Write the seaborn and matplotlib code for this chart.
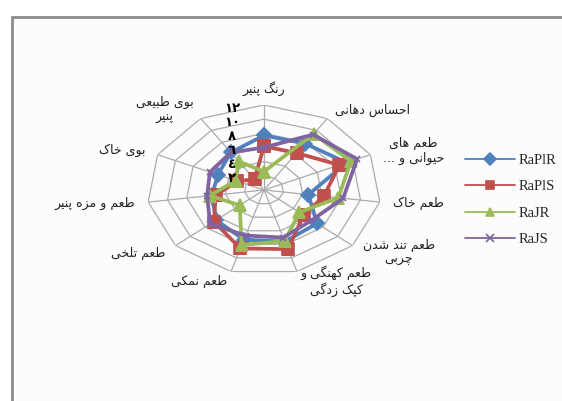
import numpy as np
import pandas as pd
import matplotlib
matplotlib.use("Agg")
import matplotlib.pyplot as plt
import seaborn as sns
from matplotlib.patches import Rectangle

# attribute names, clockwise from the top
categories = [
    "رنگ پنیر",
    "احساس دهانی",
    "طعم های\nحیوانی و ...",
    "طعم خاک",
    "طعم تند شدن\nچربی",
    "طعم کهنگی و\nکپک زدگی",
    "طعم نمکی",
    "طعم تلخی",
    "طعم و مزه پنیر",
    "بوی خاک",
    "بوی طبیعی\nپنیر",
]
series_names = ["RaPlR", "RaPlS", "RaJR", "RaJS"]
rapl_r = [7.7, 7.8, 9.3, 4.6, 7.2, 7.6, 7.3, 6.5, 5.4, 5.2, 6.3]
rapl_s = [6.2, 6.2, 8.5, 6.2, 5.4, 8.7, 8.6, 6.8, 5.0, 3.0, 1.8]
raj_r = [2.6, 9.4, 9.8, 7.7, 4.8, 7.5, 8.1, 3.3, 5.6, 3.2, 4.8]
raj_s = [6.0, 9.3, 10.5, 8.2, 6.5, 7.0, 6.7, 7.3, 5.9, 6.1, 6.3]
r_ticks = [2, 4, 6, 8, 10, 12]
r_tick_labels = ["۲", "٤", "٦", "۸", "۱۰", "۱۲"]

colors = ["#4F81BD", "#C0504D", "#9BBB59", "#8064A2"]
markers = ["D", "s", "^", "x"]
msizes = [7, 8, 9, 5]

# contextual forms (isolated, final, initial, medial) so the Persian text joins
FORMS = {
    "ا": ("\uFE8D", "\uFE8E", None, None),
    "آ": ("\uFE81", "\uFE82", None, None),
    "ب": ("\uFE8F", "\uFE90", "\uFE91", "\uFE92"),
    "پ": ("\uFB56", "\uFB57", "\uFB58", "\uFB59"),
    "ت": ("\uFE95", "\uFE96", "\uFE97", "\uFE98"),
    "چ": ("\uFB7A", "\uFB7B", "\uFB7C", "\uFB7D"),
    "ح": ("\uFEA1", "\uFEA2", "\uFEA3", "\uFEA4"),
    "خ": ("\uFEA5", "\uFEA6", "\uFEA7", "\uFEA8"),
    "د": ("\uFEA9", "\uFEAA", None, None),
    "ر": ("\uFEAD", "\uFEAE", None, None),
    "ز": ("\uFEAF", "\uFEB0", None, None),
    "س": ("\uFEB1", "\uFEB2", "\uFEB3", "\uFEB4"),
    "ش": ("\uFEB5", "\uFEB6", "\uFEB7", "\uFEB8"),
    "ط": ("\uFEC1", "\uFEC2", "\uFEC3", "\uFEC4"),
    "ع": ("\uFEC9", "\uFECA", "\uFECB", "\uFECC"),
    "ک": ("\uFB8E", "\uFB8F", "\uFB90", "\uFB91"),
    "گ": ("\uFB92", "\uFB93", "\uFB94", "\uFB95"),
    "ل": ("\uFEDD", "\uFEDE", "\uFEDF", "\uFEE0"),
    "م": ("\uFEE1", "\uFEE2", "\uFEE3", "\uFEE4"),
    "ن": ("\uFEE5", "\uFEE6", "\uFEE7", "\uFEE8"),
    "ه": ("\uFEE9", "\uFEEA", "\uFEEB", "\uFEEC"),
    "و": ("\uFEED", "\uFEEE", None, None),
    "ی": ("\uFBFC", "\uFBFD", "\uFBFE", "\uFBFF"),
}


def shape_line(text):
    out = []
    for i, ch in enumerate(text):
        if ch not in FORMS:
            out.append(ch)
            continue
        prev = text[i - 1] if i > 0 else None
        nxt = text[i + 1] if i + 1 < len(text) else None
        join_prev = prev in FORMS and FORMS[prev][2] is not None
        join_next = FORMS[ch][2] is not None and nxt in FORMS
        iso, fin, ini, med = FORMS[ch]
        if join_prev and join_next:
            out.append(med)
        elif join_prev:
            out.append(fin)
        elif join_next:
            out.append(ini)
        else:
            out.append(iso)
    return "".join(reversed(out))


def shape_fa(text):
    return "\n".join(shape_line(t) for t in text.split("\n"))


sns.set_style("white")
plt.rcParams["font.family"] = ["DejaVu Sans"]

fig = plt.figure(figsize=(5.62, 4.01), dpi=100)
fig.patch.set_facecolor("white")
fig.add_artist(Rectangle((11.5 / 562, -0.1), 1.1, 1.1 - 17 / 401,
                         transform=fig.transFigure, facecolor="#fcfcfc",
                         edgecolor="#8c8c8c", linewidth=2, zorder=0))

ax = fig.add_axes([147 / 562, 126 / 401, 234 / 562, 170 / 401], projection="polar")
ax.set_aspect("auto")
ax.set_facecolor("none")
ax.set_theta_zero_location("N")
ax.set_theta_direction(-1)

n = len(categories)
theta = np.linspace(0, 2 * np.pi, n, endpoint=False)
theta_closed = np.append(theta, 2 * np.pi)

# polygon grid like Excel's radar chart
for lvl in r_ticks:
    ax.plot(theta_closed, [lvl] * (n + 1), color="#ababab", lw=0.9, zorder=1)
ax.set_xticks(theta)
ax.set_xticklabels([])
ax.xaxis.grid(True, color="#ababab", lw=0.9)
ax.yaxis.grid(False)
ax.set_yticks(r_ticks)
ax.set_yticklabels([])
ax.spines["polar"].set_visible(False)
ax.set_ylim(0, 12)

for name, vals, c, m, ms in zip(series_names, [rapl_r, rapl_s, raj_r, raj_s],
                                colors, markers, msizes):
    df = pd.DataFrame({"theta": theta_closed, "value": vals + vals[:1]})
    sns.lineplot(data=df, x="theta", y="value", ax=ax, color=c, marker=m,
                 markersize=ms, markeredgecolor=c, markeredgewidth=1.2,
                 linewidth=2.7, sort=False, estimator=None, label=name, zorder=3)

ax.set_xlabel("")
ax.set_ylabel("")
handles, labels = ax.get_legend_handles_labels()
if ax.get_legend() is not None:
    ax.get_legend().remove()

# category labels around the web
for th, cat in zip(theta, categories):
    deg = np.degrees(th)
    if deg < 1:
        ha = "center"
        r = 14.3
    elif deg < 180:
        ha = "left"
        r = 13.4
    else:
        ha = "right"
        r = 13.4
    ax.text(th, r, shape_fa(cat), ha=ha, va="center", fontsize=9,
            multialignment="center", color="#222222")

# radial value labels left of the top spoke
for rv, lab in zip(r_ticks, r_tick_labels):
    ax.annotate(lab, xy=(0, rv), xytext=(-32, -3), textcoords="offset pixels",
                ha="center", va="center", fontsize=9.5, fontweight="bold",
                color="black")

leg = fig.legend(handles, labels, loc="center left",
                 bbox_to_anchor=(452 / 562, 1 - 200 / 401), frameon=False,
                 handlelength=3.4, handletextpad=0.3, labelspacing=0.9,
                 prop={"family": "Liberation Serif", "size": 10.5})
for line in leg.get_lines():
    line.set_linewidth(1.3)
    line.set_markersize(6)

fig.savefig("out.png", dpi=100)
